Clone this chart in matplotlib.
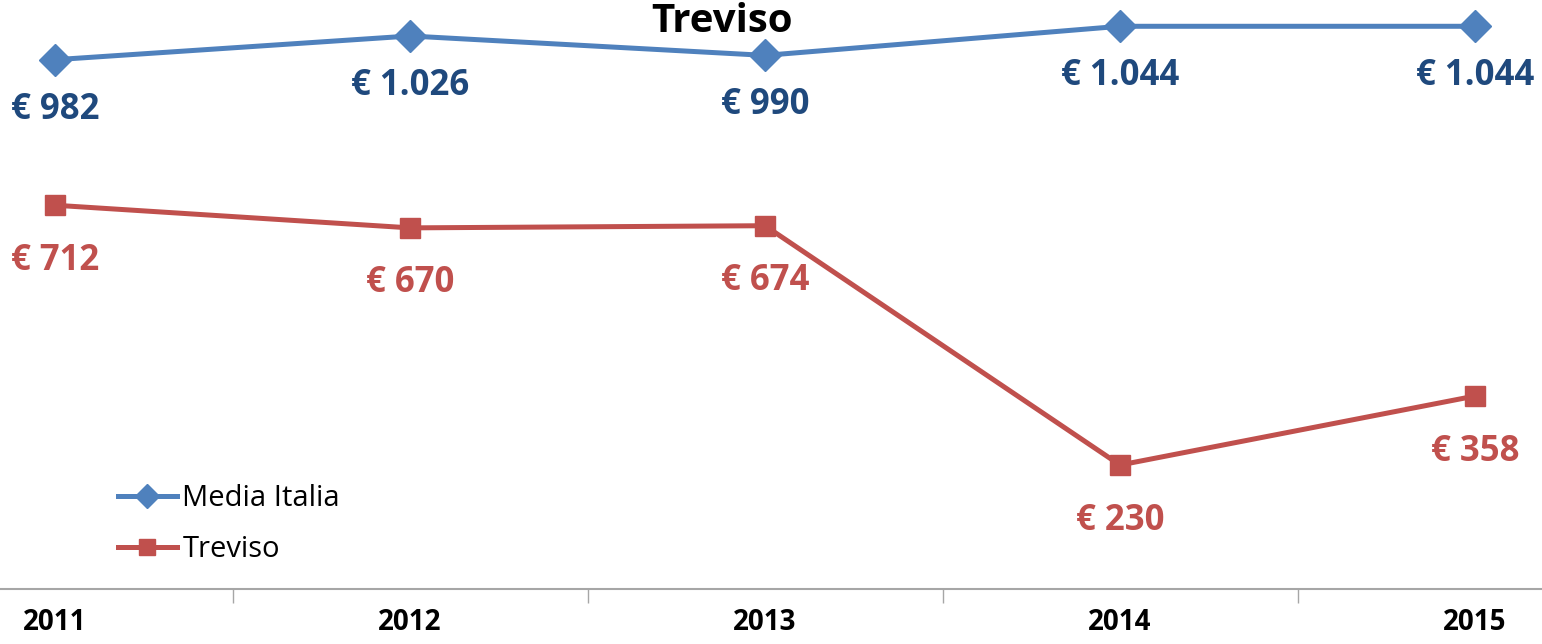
import matplotlib
matplotlib.use("Agg")
import matplotlib.pyplot as plt
from matplotlib.lines import Line2D

years = ["2011", "2012", "2013", "2014", "2015"]
media_italia = [982, 1026, 990, 1044, 1044]
treviso = [712, 670, 674, 230, 358]
media_labels = ["€ 982", "€ 1.026", "€ 990", "€ 1.044", "€ 1.044"]
treviso_labels = ["€ 712", "€ 670", "€ 674", "€ 230", "€ 358"]

plt.rcParams['font.family'] = ['Open Sans', 'DejaVu Sans']

W, H = 1542, 644
fig = plt.figure(figsize=(W / 100, H / 100), dpi=100)
ax_bottom = 589
ax = fig.add_axes([0, (H - ax_bottom) / H, 1, ax_bottom / H])
ax.patch.set_alpha(0)

x = list(range(len(years)))
blue = "#4F81BD"
blue_txt = "#1F497D"
red = "#C0504D"

ax.plot(x, media_italia, color=blue, lw=3.6, marker="D", markersize=16,
        label="Media Italia", solid_joinstyle="round")
ax.plot(x, treviso, color=red, lw=3.6, marker="s", markersize=15,
        label="Treviso", solid_joinstyle="round")

for i, (v, t) in enumerate(zip(media_italia, media_labels)):
    ax.annotate(t, (i, v), xytext=(0, -36), textcoords="offset points",
                ha="center", va="center", fontsize=25, fontweight="bold",
                color=blue_txt)
for i, (v, t) in enumerate(zip(treviso, treviso_labels)):
    ax.annotate(t, (i, v), xytext=(0, -40), textcoords="offset points",
                ha="center", va="center", fontsize=25, fontweight="bold",
                color=red)

px_per_cat = 355.0
x0 = 55.0
ax.set_xlim((0 - x0) / px_per_cat, (W - x0) / px_per_cat)
ax.set_ylim(0, ax_bottom / 0.539)

for s in ["left", "right", "top"]:
    ax.spines[s].set_visible(False)
ax.spines["bottom"].set_color("#A6A6A6")
ax.spines["bottom"].set_linewidth(1.5)
ax.set_yticks([])
ax.set_xticks(x)
ax.set_xticklabels(years, fontsize=20, fontweight="bold")
ax.tick_params(axis="x", length=0, pad=14)
ax.set_xticks([i + 0.5 for i in range(len(years) - 1)], minor=True)
ax.tick_params(axis="x", which="minor", length=10, width=1, color="#A6A6A6",
               direction="out")

fig.text(722 / W, 1 - 21 / H, "Treviso", ha="center", va="center",
         fontsize=29, fontweight="bold", color="black")

handles = [
    Line2D([], [], color=blue, lw=3.6, marker="D", markersize=12),
    Line2D([], [], color=red, lw=3.6, marker="s", markersize=12),
]
leg = fig.legend(handles, ["Media Italia", "Treviso"], loc="center left",
                 bbox_to_anchor=(92 / W, 1 - 524 / H), frameon=False,
                 fontsize=21, handlelength=2.0, handletextpad=0.2,
                 labelspacing=0.75)

fig.savefig("out.png", dpi=100)
